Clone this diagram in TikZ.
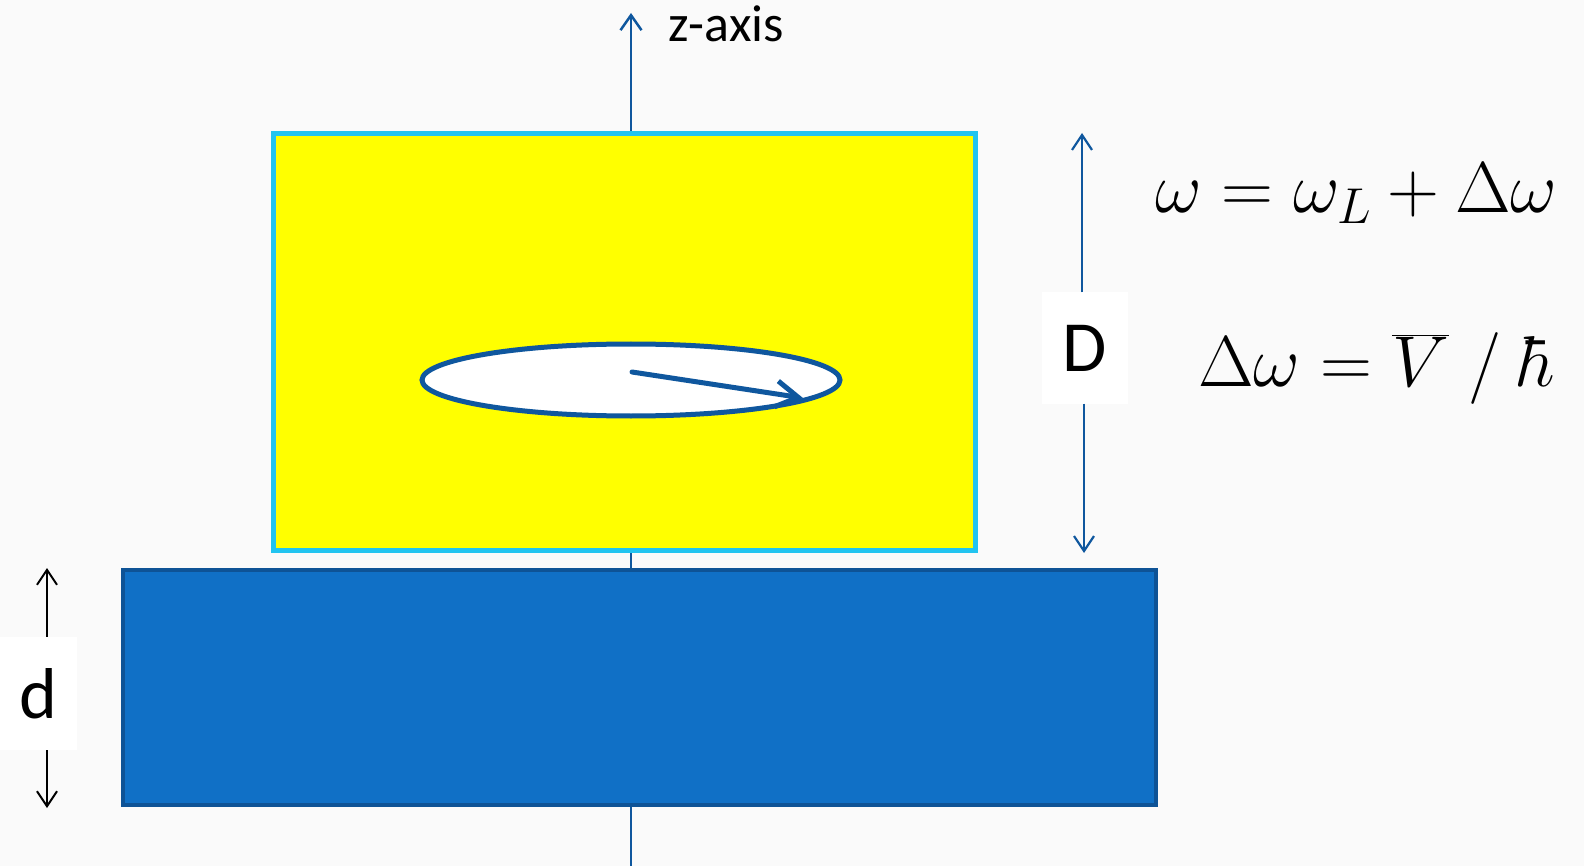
\RequirePackage{fix-cm}
\documentclass[tikz,border=0pt]{standalone}
\usepackage{fontspec}
\setmainfont{Carlito}
\usepackage{tikz}
\usetikzlibrary{arrows.meta}
\usetikzlibrary{positioning}
\usetikzlibrary{shapes.geometric}
\definecolor{axisblue}{HTML}{0F579E}
\definecolor{edgecyan}{HTML}{22C4F0}
\definecolor{samplefill}{HTML}{FFFF00}
\definecolor{platefill}{HTML}{1070C6}
\definecolor{plateedge}{HTML}{0E5396}
\definecolor{paper}{HTML}{FAFAFA}
\tikzstyle{axis}=[draw=axisblue,line width=2.5pt,-{Straight Barb[length=15pt,width=21pt]}]
\tikzstyle{dimarrow}=[draw=axisblue,line width=2.2pt,-{Straight Barb[length=15pt,width=20pt]}]
\tikzstyle{thinarrow}=[draw=black,line width=2pt,-{Straight Barb[length=15pt,width=20pt]}]
\tikzstyle{lbl}=[fill=white,inner sep=0pt,font=\fontsize{72}{80}\selectfont]
\tikzstyle{eqn}=[anchor=base west,inner sep=0pt,font=\fontsize{72}{80}\selectfont]

\begin{document}
\begin{tikzpicture}[x=1pt,y=-1pt]
	\useasboundingbox[fill=paper] (0,0) rectangle (1584,866);
	% z-axis behind everything
	\coordinate (axisbot) at (631,866);
	\coordinate (axistop) at (631,13);
	\draw[axis] (axisbot) -- (axistop);
	\node[anchor=base west,inner sep=0pt,font=\fontsize{52}{60}\selectfont] (zlbl) at (668,42) {z-axis};

	% sample and substrate
	\node[draw=edgecyan,line width=5pt,fill=samplefill,minimum width=702,minimum height=417,inner sep=0pt] (sample) at (624.5,342) {};
	\node[draw=plateedge,line width=4pt,fill=platefill,minimum width=1033,minimum height=235,inner sep=0pt] (plate) at (639.5,687.5) {};

	% precessing spin
	\node[ellipse,draw=axisblue,line width=5pt,fill=white,minimum width=418,minimum height=72,inner sep=0pt] (orbit) at (631,380) {};
	\coordinate (spinbase) at (632,372);
	\coordinate (spintip) at (803,398);
	\draw[axisblue,line width=5pt,line cap=round,-{Straight Barb[length=22pt,width=26pt]}] (spinbase) -- (spintip);

	% distance D
	\node[lbl,minimum width=86,minimum height=111] (Dlbl) at (1085,348) {D};
	\coordinate (Dtop) at (1082,133);
	\coordinate (Dbot) at (1084,553);
	\draw[dimarrow] (Dtop |- Dlbl.north) -- (Dtop);
	\draw[dimarrow] (Dbot |- Dlbl.south) -- (Dbot);

	% thickness d
	\node[lbl,minimum width=77,minimum height=113] (dlbl) at (38.5,693.5) {d};
	\coordinate (dtop) at (47,568);
	\coordinate (dbot) at (47,808);
	\draw[thinarrow] (dtop |- dlbl.north) -- (dtop);
	\draw[thinarrow] (dbot |- dlbl.south) -- (dbot);

	% frequencies
	\node[eqn] (eqone) at (1155,213) {$\omega = \omega_L + \Delta\omega$};
	\node[eqn] (eqtwo) at (1198,386) {$\Delta\omega = \overline{V}\;/\;\hbar$};
\end{tikzpicture}
\end{document}
